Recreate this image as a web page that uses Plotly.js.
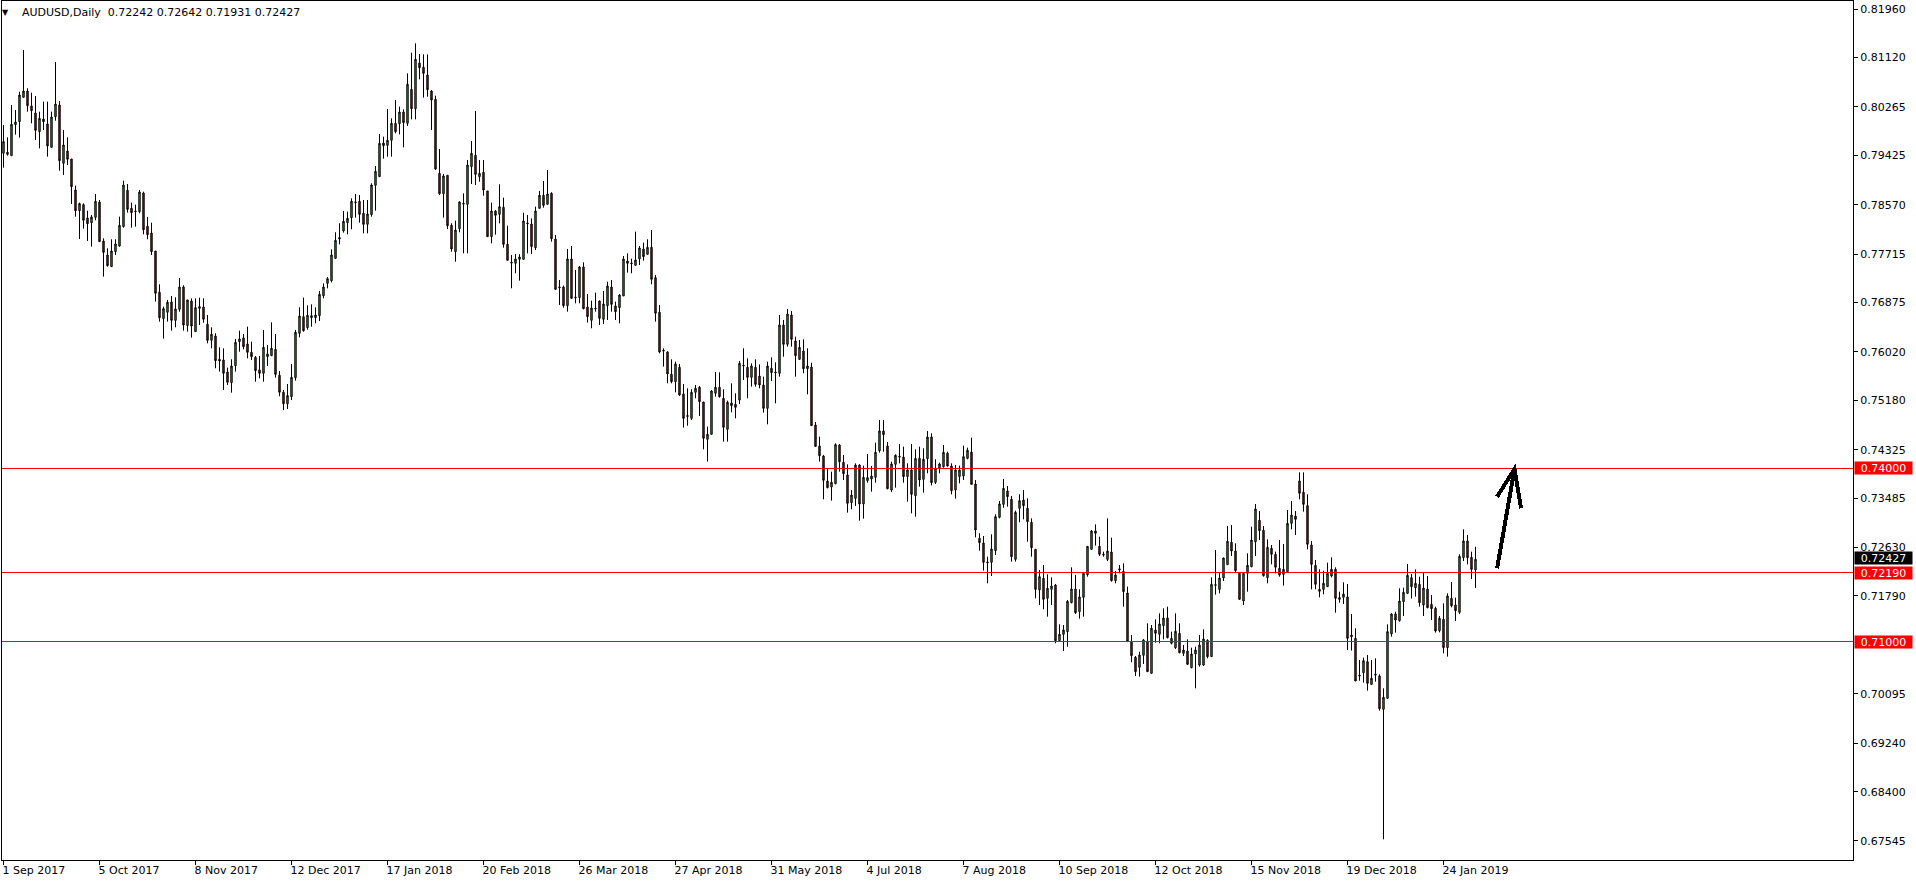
<!DOCTYPE html>
<html>
<head>
<meta charset="utf-8">
<script src="https://cdn.plot.ly/plotly-3.0.1.min.js"></script>
<style>
  html, body { margin: 0; padding: 0; background: #fff; }
  #chart { width: 1916px; height: 884px; }
  .shapelayer path { shape-rendering: crispEdges; }
</style>
</head>
<body>
<div id="chart"></div>
<script>
// ---- data (AUDUSD daily) ----
const symbol = 'AUDUSD,Daily';
const dateLabels = ['1 Sep 2017','5 Oct 2017','8 Nov 2017','12 Dec 2017','17 Jan 2018','20 Feb 2018','26 Mar 2018','27 Apr 2018','31 May 2018','4 Jul 2018','7 Aug 2018','10 Sep 2018','12 Oct 2018','15 Nov 2018','19 Dec 2018','24 Jan 2019'];
const barsPerLabel = 24;
const priceTicks = [0.81960,0.81120,0.80265,0.79425,0.78570,0.77715,0.76875,0.76020,0.75180,0.74325,0.73485,0.72630,0.71790,0.70095,0.69240,0.68400,0.67545];
const redLevels = [0.74000, 0.72190, 0.71000];
const lastPrice = 0.72427;

const open = [
0.79460,0.79477,0.79419,0.79956,0.80008,0.80430,0.80539,0.80280,0.80158,0.79835,
0.80054,0.79968,0.79563,0.80095,0.80297,0.79286,0.79500,0.79361,0.78824,0.78466,
0.78570,0.78339,0.78258,0.78351,0.78616,0.77941,0.77698,0.77496,0.77756,0.77854,
0.78189,0.78819,0.78507,0.78460,0.78449,0.78772,0.78195,0.78079,0.77767,0.77051,
0.76595,0.76705,0.76884,0.76566,0.76757,0.77144,0.76474,0.76901,0.76370,0.76803,
0.76797,0.76497,0.76220,0.76295,0.75891,0.75879,0.75671,0.75486,0.75781,0.76197,
0.76260,0.76156,0.76012,0.75925,0.75706,0.75648,0.75937,0.75954,0.76064,0.75613,
0.75320,0.75120,0.75244,0.75573,0.76341,0.76630,0.76439,0.76612,0.76612,0.76647,
0.76993,0.77207,0.77253,0.77640,0.77975,0.78114,0.78258,0.78345,0.78605,0.78628,
0.78420,0.78229,0.78397,0.78905,0.79055,0.79638,0.79598,0.79685,0.79979,0.79973,
0.80175,0.79979,0.80568,0.80233,0.81024,0.80949,0.80816,0.80539,0.80395,0.79113,
0.78760,0.79078,0.78212,0.77756,0.78154,0.78593,0.78576,0.79228,0.79425,0.79055,
0.79130,0.78807,0.78016,0.78460,0.78402,0.78524,0.77883,0.77571,0.77554,0.77623,
0.77623,0.78253,0.78235,0.77825,0.78507,0.78732,0.78576,0.78767,0.77975,0.77144,
0.77144,0.76820,0.77629,0.76953,0.76959,0.77490,0.76797,0.76566,0.76763,0.76901,
0.76584,0.76820,0.77144,0.76815,0.76786,0.76988,0.77594,0.77560,0.77519,0.77629,
0.77802,0.77710,0.77831,0.77305,0.76705,0.76047,0.76018,0.75631,0.75504,0.75752,
0.75290,0.74915,0.74868,0.75319,0.75405,0.75151,0.74505,0.74591,0.75302,0.75405,
0.75215,0.74678,0.75134,0.75111,0.75186,0.75787,0.75752,0.75578,0.75752,0.75601,
0.75445,0.75041,0.75734,0.75671,0.75648,0.76485,0.76150,0.76658,0.76208,0.75890,
0.76034,0.75728,0.75757,0.74752,0.74389,0.74215,0.73782,0.73678,0.73736,0.74406,
0.74106,0.73886,0.73407,0.73482,0.74059,0.73384,0.73788,0.73817,0.73846,0.74308,
0.74649,0.74389,0.73626,0.74071,0.74210,0.74198,0.73858,0.73973,0.73528,0.74175,
0.73811,0.74169,0.74545,0.73759,0.74002,0.74030,0.74262,0.74042,0.73626,0.73858,
0.73869,0.74175,0.74285,0.73730,0.72789,0.72708,0.72379,0.72373,0.72575,0.73153,
0.73378,0.73609,0.73465,0.72425,0.73309,0.73453,0.73309,0.73066,0.72598,0.71894,
0.72096,0.71749,0.71905,0.71980,0.71016,0.71126,0.71172,0.71674,0.71911,0.71518,
0.71767,0.72159,0.72598,0.72916,0.72650,0.72512,0.72425,0.72552,0.72056,0.72240,
0.72217,0.71842,0.70999,0.70727,0.70554,0.70762,0.71010,0.70450,0.71201,0.71126,
0.71276,0.71409,0.71056,0.70895,0.71143,0.70797,0.70837,0.70548,0.70785,0.70594,
0.70594,0.71022,0.70739,0.71986,0.71905,0.72102,0.72333,0.72720,0.72569,0.72183,
0.71703,0.72183,0.72298,0.72731,0.73101,0.72928,0.72107,0.72616,0.72512,0.72269,
0.72165,0.72211,0.73049,0.73176,0.73782,0.73586,0.73355,0.72673,0.72321,0.71905,
0.71905,0.71952,0.72136,0.72252,0.71761,0.71767,0.71772,0.71114,0.71056,0.70415,
0.70462,0.70652,0.70259,0.70433,0.70404,0.69826,0.70017,0.71132,0.71478,0.71362,
0.71692,0.71836,0.72107,0.71934,0.71992,0.71634,0.71911,0.71645,0.71576,0.71189,
0.71386,0.70895,0.71749,0.71634,0.71507,0.72454,0.72743,0.72460,0.72242];

const high = [
0.79950,0.79737,0.80297,0.80210,0.80528,0.81250,0.80586,0.80511,0.80453,0.80181,
0.80355,0.80355,0.80181,0.81042,0.80366,0.79864,0.79737,0.79361,0.78899,0.78605,
0.78593,0.78466,0.78391,0.78755,0.78651,0.77987,0.77814,0.77970,0.77970,0.78362,
0.78986,0.78928,0.78605,0.78570,0.78824,0.78795,0.78357,0.78258,0.77767,0.77190,
0.76803,0.76919,0.76988,0.76965,0.77300,0.77173,0.76919,0.76947,0.76947,0.76959,
0.76947,0.76659,0.76445,0.76341,0.76098,0.76081,0.75746,0.75891,0.76243,0.76387,
0.76329,0.76457,0.76196,0.75948,0.75948,0.76399,0.76139,0.76531,0.76329,0.75688,
0.75359,0.75463,0.75809,0.76399,0.76791,0.76959,0.76826,0.76843,0.76791,0.77074,
0.77207,0.77317,0.77796,0.78091,0.78247,0.78460,0.78449,0.78680,0.78755,0.78737,
0.78651,0.78651,0.78940,0.79240,0.79794,0.79748,0.80227,0.80066,0.80383,0.80268,
0.80222,0.80845,0.81203,0.81365,0.81180,0.81174,0.81174,0.80556,0.80458,0.79534,
0.79101,0.79078,0.78247,0.78293,0.78628,0.78766,0.79344,0.79673,0.80192,0.79344,
0.79344,0.78807,0.78605,0.78478,0.78922,0.78691,0.78206,0.77698,0.77716,0.77710,
0.78432,0.78391,0.78333,0.78536,0.78807,0.78980,0.79171,0.78784,0.78045,0.77265,
0.77167,0.77802,0.77854,0.77438,0.77508,0.77571,0.77022,0.76907,0.77046,0.76907,
0.77074,0.77236,0.77265,0.76890,0.77022,0.77681,0.77727,0.77635,0.78102,0.77854,
0.77912,0.77970,0.78131,0.77352,0.76832,0.76081,0.76029,0.75891,0.75850,0.75810,
0.75463,0.75388,0.75371,0.75446,0.75429,0.75151,0.74724,0.75359,0.75671,0.75665,
0.75371,0.75175,0.75475,0.75302,0.75862,0.76081,0.75908,0.75821,0.75890,0.75803,
0.75590,0.75850,0.75925,0.75838,0.76658,0.76572,0.76762,0.76727,0.76283,0.76225,
0.76237,0.76081,0.75832,0.74804,0.74550,0.74233,0.74002,0.73944,0.74435,0.74423,
0.74233,0.74071,0.73626,0.74088,0.74071,0.74048,0.74250,0.74042,0.74446,0.74839,
0.74839,0.74458,0.74117,0.74244,0.74423,0.74377,0.74088,0.74423,0.74331,0.74377,
0.74348,0.74649,0.74608,0.74158,0.74100,0.74406,0.74290,0.74088,0.74059,0.74048,
0.74394,0.74360,0.74533,0.73800,0.72876,0.72829,0.72471,0.72858,0.73205,0.73436,
0.73817,0.73696,0.73522,0.73268,0.73551,0.73626,0.73482,0.73135,0.72598,0.72240,
0.72327,0.72165,0.72113,0.71998,0.71299,0.71287,0.71720,0.72287,0.72154,0.71905,
0.72194,0.72656,0.72933,0.73031,0.72818,0.72558,0.73135,0.72800,0.72223,0.72327,
0.72356,0.71952,0.71114,0.70750,0.70825,0.71045,0.71316,0.71287,0.71386,0.71490,
0.71576,0.71605,0.71172,0.71490,0.71316,0.70941,0.71039,0.70895,0.70912,0.71114,
0.71212,0.71039,0.72113,0.72587,0.72194,0.72454,0.73003,0.73020,0.72702,0.72183,
0.72183,0.72529,0.72991,0.73384,0.73262,0.73003,0.72772,0.72673,0.72558,0.72760,
0.72691,0.73280,0.73436,0.73262,0.73932,0.73932,0.73551,0.72743,0.72413,0.72252,
0.72229,0.72367,0.72460,0.72287,0.71865,0.72027,0.71998,0.71478,0.71230,0.70681,
0.70721,0.70768,0.70681,0.70710,0.70433,0.70190,0.71299,0.71490,0.71518,0.71923,
0.71934,0.72344,0.72171,0.72252,0.72125,0.72200,0.72136,0.71807,0.71605,0.71443,
0.71663,0.71836,0.72032,0.71761,0.72512,0.72945,0.72847,0.72558,0.72642];

const low = [
0.79211,0.79419,0.79419,0.79783,0.79731,0.80430,0.80181,0.79979,0.79691,0.79546,
0.79864,0.79402,0.79563,0.80025,0.79159,0.79084,0.79257,0.78582,0.78362,0.77975,
0.78154,0.77941,0.77843,0.78299,0.77929,0.77323,0.77496,0.77496,0.77698,0.77843,
0.78172,0.78432,0.78172,0.78189,0.78420,0.78056,0.77970,0.77698,0.76890,0.76543,
0.76249,0.76543,0.76387,0.76445,0.76716,0.76387,0.76370,0.76266,0.76370,0.76485,
0.76526,0.76168,0.76081,0.75735,0.75677,0.75359,0.75446,0.75313,0.75677,0.76023,
0.76064,0.75908,0.75879,0.75503,0.75561,0.75503,0.75775,0.75954,0.75573,0.75250,
0.75010,0.75030,0.75186,0.75521,0.76271,0.76370,0.76404,0.76456,0.76514,0.76554,
0.76947,0.77120,0.77224,0.77640,0.77883,0.78085,0.78056,0.78143,0.78345,0.78258,
0.78073,0.78073,0.78362,0.78466,0.79055,0.79367,0.79402,0.79402,0.79806,0.79788,
0.79563,0.79933,0.80048,0.80048,0.80741,0.80424,0.80441,0.79864,0.79171,0.78737,
0.78345,0.78148,0.77756,0.77582,0.78091,0.77727,0.77727,0.78928,0.78911,0.78968,
0.78726,0.78016,0.77900,0.78050,0.78247,0.77825,0.77606,0.77121,0.77381,0.77253,
0.77623,0.77727,0.77716,0.77785,0.78507,0.78518,0.78576,0.77929,0.77103,0.76832,
0.76786,0.76716,0.76947,0.76861,0.76861,0.76757,0.76526,0.76428,0.76716,0.76485,
0.76503,0.76572,0.76716,0.76572,0.76514,0.76988,0.77392,0.77381,0.77519,0.77525,
0.77600,0.77710,0.77190,0.76543,0.75995,0.75764,0.75475,0.75475,0.75319,0.75255,
0.74707,0.74741,0.74840,0.75215,0.74909,0.74331,0.74118,0.74591,0.75244,0.75227,
0.74464,0.74464,0.74972,0.74868,0.75117,0.75533,0.75215,0.75417,0.75417,0.75388,
0.74966,0.74764,0.75515,0.75128,0.75590,0.75936,0.76110,0.76110,0.75590,0.75879,
0.75648,0.75284,0.74741,0.74377,0.74117,0.73465,0.73655,0.73442,0.73724,0.73944,
0.73800,0.73234,0.73292,0.73349,0.73095,0.73130,0.73753,0.73597,0.73753,0.74273,
0.74290,0.73638,0.73592,0.73667,0.74088,0.73753,0.73424,0.73222,0.73164,0.73684,
0.73580,0.73915,0.73707,0.73730,0.73915,0.74013,0.74030,0.73551,0.73476,0.73742,
0.73800,0.74158,0.73724,0.72806,0.72575,0.72229,0.72009,0.72136,0.72500,0.73135,
0.73320,0.73338,0.72385,0.72385,0.73066,0.73118,0.72731,0.72471,0.71749,0.71634,
0.71559,0.71432,0.71634,0.70970,0.70999,0.70837,0.70912,0.71663,0.71478,0.71397,
0.71432,0.72125,0.72587,0.72662,0.72483,0.72471,0.72396,0.72038,0.72009,0.72183,
0.71605,0.70999,0.70641,0.70404,0.70392,0.70612,0.70479,0.70450,0.70981,0.70970,
0.71039,0.71056,0.70952,0.70872,0.70797,0.70750,0.70594,0.70537,0.70190,0.70566,
0.70577,0.70710,0.70739,0.71813,0.71836,0.72050,0.72333,0.72483,0.72194,0.71720,
0.71634,0.71865,0.72287,0.72483,0.72760,0.72125,0.72009,0.72338,0.72183,0.72125,
0.71969,0.72211,0.72945,0.72847,0.73465,0.73251,0.72598,0.71905,0.71905,0.71767,
0.71819,0.71952,0.72113,0.71501,0.71674,0.71651,0.70854,0.70843,0.70317,0.70323,
0.70288,0.70150,0.70248,0.70306,0.69803,0.67574,0.70005,0.71085,0.71155,0.71345,
0.71443,0.71824,0.71744,0.71778,0.71605,0.71443,0.71576,0.71374,0.71155,0.71160,
0.70797,0.70739,0.71594,0.71357,0.71478,0.72396,0.72338,0.72084,0.71931];

const close = [
0.79662,0.79442,0.79962,0.80002,0.80470,0.80539,0.80285,0.80199,0.79858,0.80066,
0.80008,0.79587,0.80089,0.80314,0.79332,0.79604,0.79356,0.78882,0.78466,0.78588,
0.78299,0.78241,0.78357,0.78628,0.77929,0.77744,0.77513,0.77767,0.77889,0.78212,
0.78911,0.78489,0.78432,0.78449,0.78790,0.78137,0.78050,0.77756,0.77034,0.76612,
0.76768,0.76878,0.76566,0.76763,0.77144,0.76485,0.76919,0.76468,0.76786,0.76774,
0.76584,0.76220,0.76324,0.75867,0.75862,0.75648,0.75492,0.75775,0.76185,0.76243,
0.76110,0.76012,0.75937,0.75694,0.75648,0.76098,0.75983,0.76081,0.75630,0.75320,
0.75120,0.75261,0.75578,0.76358,0.76641,0.76387,0.76653,0.76647,0.76658,0.77016,
0.77144,0.77288,0.77698,0.77952,0.77998,0.78281,0.78333,0.78628,0.78616,0.78402,
0.78229,0.78408,0.78911,0.79147,0.79633,0.79592,0.79685,0.79979,0.79835,0.80175,
0.79991,0.80655,0.80233,0.81088,0.80943,0.80845,0.80562,0.80383,0.79188,0.78760,
0.79067,0.78206,0.77802,0.78131,0.78616,0.78581,0.79257,0.79459,0.79095,0.79113,
0.78824,0.78016,0.78460,0.78385,0.78535,0.77883,0.77606,0.77560,0.77629,0.77663,
0.78287,0.78241,0.77843,0.78460,0.78732,0.78559,0.78755,0.77981,0.77103,0.77132,
0.76820,0.77629,0.76947,0.76965,0.77490,0.76768,0.76630,0.76780,0.76774,0.76601,
0.76849,0.77161,0.76843,0.76716,0.77005,0.77629,0.77554,0.77548,0.77612,0.77819,
0.77669,0.77831,0.77277,0.76688,0.76018,0.76035,0.75637,0.75504,0.75810,0.75273,
0.74868,0.74903,0.75319,0.75388,0.75157,0.74522,0.74591,0.75342,0.75405,0.75244,
0.74713,0.75146,0.75088,0.75059,0.75821,0.75775,0.75579,0.75775,0.75457,0.75445,
0.75041,0.75775,0.75659,0.75659,0.76485,0.76150,0.76675,0.76237,0.75954,0.76098,
0.75728,0.75775,0.74741,0.74383,0.74221,0.73794,0.73667,0.73759,0.74412,0.74117,
0.73909,0.73395,0.73540,0.74059,0.73384,0.73846,0.73840,0.73869,0.74279,0.74649,
0.74585,0.73649,0.74077,0.74227,0.74198,0.73858,0.73973,0.73551,0.74175,0.73800,
0.74158,0.74545,0.73753,0.74002,0.74077,0.74279,0.74042,0.73615,0.73973,0.73973,
0.74204,0.74313,0.73724,0.72933,0.72714,0.72373,0.72367,0.72604,0.73164,0.73384,
0.73655,0.73511,0.72471,0.73239,0.73441,0.73355,0.73078,0.72627,0.71905,0.72125,
0.71732,0.71923,0.71963,0.71016,0.71126,0.71201,0.71697,0.71911,0.71501,0.71772,
0.72183,0.72650,0.72916,0.72876,0.72512,0.72500,0.72569,0.72056,0.72154,0.72258,
0.71865,0.70999,0.70756,0.70479,0.70768,0.71028,0.70479,0.71230,0.71143,0.71305,
0.71409,0.71068,0.70970,0.71178,0.70808,0.70854,0.70606,0.70785,0.70854,0.70941,
0.71045,0.70739,0.71992,0.71975,0.72102,0.72448,0.72737,0.72569,0.72229,0.71732,
0.72183,0.72321,0.72760,0.73297,0.72922,0.72142,0.72633,0.72512,0.72287,0.72154,
0.72252,0.73049,0.73193,0.73118,0.73569,0.73378,0.72685,0.72338,0.71992,0.71871,
0.72009,0.72183,0.72252,0.71749,0.71732,0.71824,0.71056,0.71085,0.70317,0.70404,
0.70669,0.70277,0.70363,0.70421,0.69838,0.70034,0.71172,0.71478,0.71374,0.71703,
0.71853,0.72148,0.71952,0.72009,0.71674,0.71928,0.71588,0.71570,0.71183,0.71403,
0.70895,0.71790,0.71622,0.71536,0.72477,0.72743,0.72454,0.72252,0.72427];

// ---- chart ----
const W = 1916, H = 884;
const ML = 2, MR = 63, MT = 1, MB = 24;
const PW = W - ML - MR, PH = H - MT - MB;
const fx = px => (px - ML) / PW;
const fy = py => 1 - (py - MT) / PH;

const barIndex = close.map((_, i) => i);
const fmt = v => v.toFixed(5);
const n = close.length - 1;

const trace = {
  type: 'candlestick',
  x: barIndex, open: open, high: high, low: low, close: close,
  increasing: { line: { color: '#000000', width: 1 }, fillcolor: '#32b432' },
  decreasing: { line: { color: '#000000', width: 1 }, fillcolor: '#e00000' },
  whiskerwidth: 0,
  hoverinfo: 'none',
  showlegend: false
};

const shapes = redLevels.map(v => ({
  type: 'line', xref: 'paper', x0: 0, x1: 1, yref: 'y', y0: v, y1: v,
  line: { color: '#ff0000', width: 1 }, layer: 'above'
}));
// hand-drawn arrow (tail, tip, two head strokes), in bar/price units
shapes.push({
  type: 'path', xref: 'x', yref: 'y', layer: 'above',
  path: 'M 373.4,0.72270 L 377.75,0.73990 M 373.4,0.73510 L 377.75,0.73990 L 379.4,0.73309',
  line: { color: '#000000', width: 4 }
});

const annotations = [];
// header
annotations.push({
  xref: 'paper', yref: 'paper', x: fx(5.5), y: fy(12), xanchor: 'center', yanchor: 'middle',
  text: '\u25BC', showarrow: false, font: { family: 'DejaVu Sans', size: 8, color: '#000' }
});
annotations.push({
  xref: 'paper', yref: 'paper', x: fx(20), y: fy(12.5), xanchor: 'left', yanchor: 'middle',
  text: symbol + '\u00A0 ' + [open[n], high[n], low[n], close[n]].map(fmt).join(' '),
  showarrow: false, font: { family: 'DejaVu Sans', size: 11, color: '#000' }
});
// price boxes on the right scale
redLevels.forEach(v => annotations.push({
  xref: 'paper', yref: 'y', x: 1, xshift: 1, y: v, xanchor: 'left', yanchor: 'middle',
  text: fmt(v), showarrow: false, width: 57, height: 12, borderpad: 0, align: 'center',
  bgcolor: '#ff0000', font: { family: 'DejaVu Sans', size: 11, color: '#ffffff' }
}));
annotations.push({
  xref: 'paper', yref: 'y', x: 1, xshift: 1, y: lastPrice, yshift: 1, xanchor: 'left', yanchor: 'middle',
  text: fmt(lastPrice), showarrow: false, width: 57, height: 12, borderpad: 0, align: 'center',
  bgcolor: '#000000', font: { family: 'DejaVu Sans', size: 11, color: '#ffffff' }
});

const layout = {
  width: W, height: H,
  margin: { l: ML, r: MR, t: MT, b: MB, pad: 0 },
  paper_bgcolor: '#ffffff', plot_bgcolor: '#ffffff',
  font: { family: 'DejaVu Sans', size: 11, color: '#000000' },
  showlegend: false,
  boxgap: 0.5,
  dragmode: false,
  xaxis: {
    type: 'linear', range: [-0.375, 462.375],
    tickmode: 'array',
    tickvals: dateLabels.map((_, k) => k * barsPerLabel),
    ticktext: dateLabels,
    ticks: 'outside', ticklen: 4, tickwidth: 1, tickcolor: '#000',
    ticklabelposition: 'outside right',
    ticklabelshift: -2,
    tickfont: { family: 'DejaVu Sans', size: 11, color: '#000' },
    showline: true, mirror: true, linecolor: '#000', linewidth: 1,
    showgrid: false, zeroline: false,
    rangeslider: { visible: false }, fixedrange: true
  },
  yaxis: {
    side: 'right', range: [0.672157, 0.820986],
    tickmode: 'array', tickvals: priceTicks, ticktext: priceTicks.map(fmt),
    ticks: 'outside', ticklen: 4, tickwidth: 1, tickcolor: '#000',
    tickfont: { family: 'DejaVu Sans', size: 11, color: '#000' },
    showline: true, mirror: true, linecolor: '#000', linewidth: 1,
    showgrid: false, zeroline: false, fixedrange: true
  },
  shapes: shapes,
  annotations: annotations
};

Plotly.newPlot('chart', [trace], layout, { staticPlot: true, displayModeBar: false });
</script>
</body>
</html>
